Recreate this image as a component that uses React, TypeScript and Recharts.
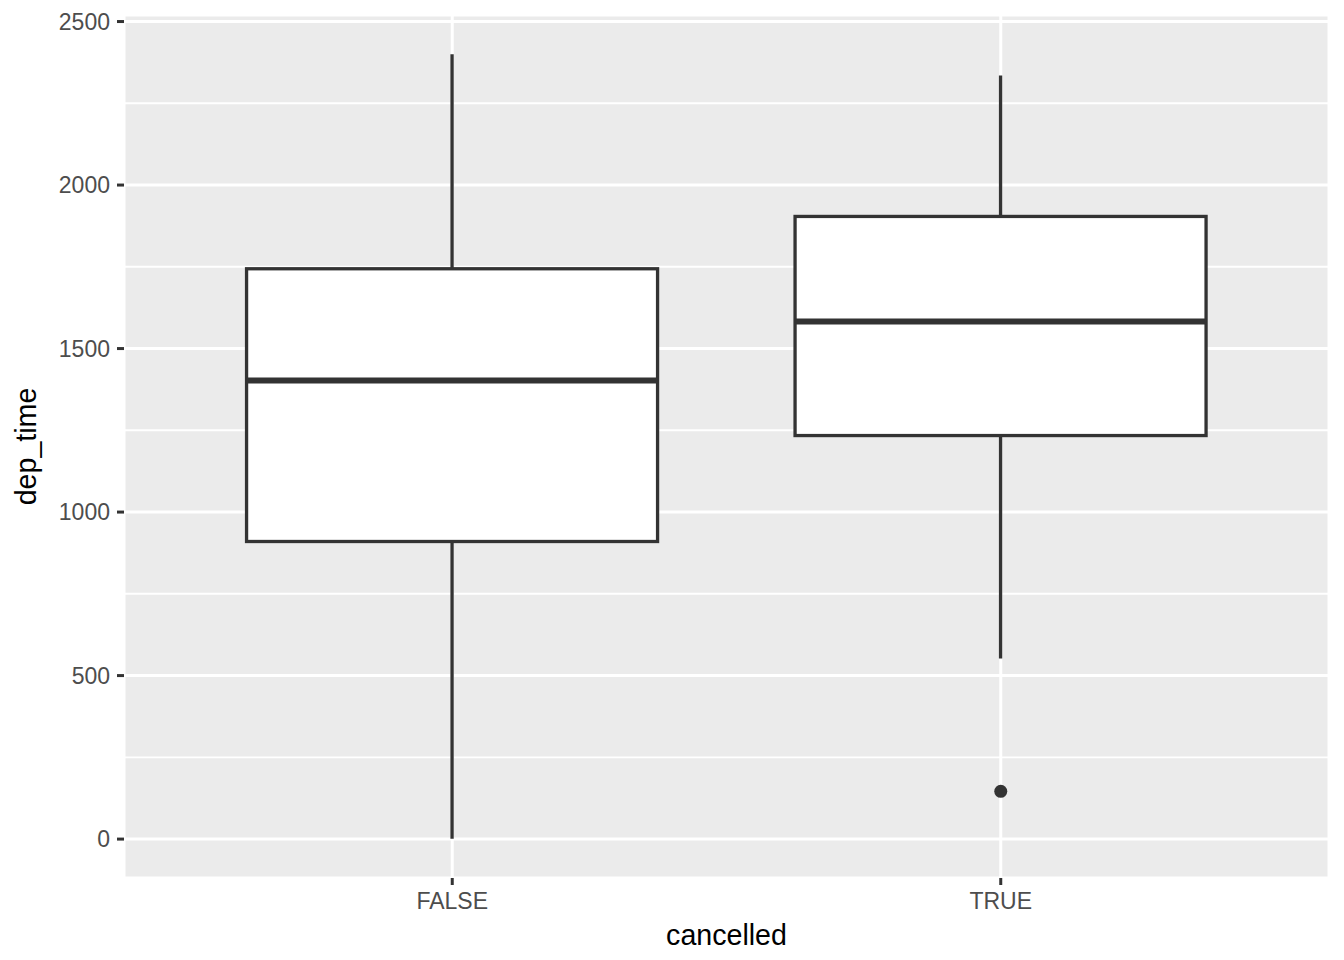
import {
  ComposedChart,
  Bar,
  Scatter,
  XAxis,
  YAxis,
  CartesianGrid,
} from 'recharts';

// boxplot stats per group
const CATEGORIES = ['FALSE', 'TRUE'];
const WHISKER_LOW = [1, 552];
const Q1 = [910, 1234];
const MEDIAN = [1402, 1583];
const Q3 = [1744, 1904];
const WHISKER_HIGH = [2400, 2335];
const OUTLIERS: (number | null)[] = [null, 146];

const Y_TICKS = [0, 500, 1000, 1500, 2000, 2500];
const Y_MINOR = [250, 750, 1250, 1750, 2250];
const Y_DOMAIN = [-119, 2520];

const FONT = '"Liberation Sans", Arial, Helvetica, sans-serif';
const DARK = '#333333';

const data = CATEGORIES.map((cat, i) => ({
  cat,
  low: WHISKER_LOW[i],
  q1: Q1[i],
  median: MEDIAN[i],
  q3: Q3[i],
  high: WHISKER_HIGH[i],
  outlier: OUTLIERS[i],
}));

const BoxShape = (props: any) => {
  const { x, y, width, height, payload } = props;
  const top = Math.min(y, y + height);
  const h = Math.abs(height);
  const k = h / (payload.high - payload.low);
  const toY = (v: number) => top + (payload.high - v) * k;
  const cx = x + width / 2;
  return (
    <g>
      <line x1={cx} x2={cx} y1={toY(payload.high)} y2={toY(payload.q3)} stroke={DARK} strokeWidth={3.3} />
      <line x1={cx} x2={cx} y1={toY(payload.q1)} y2={toY(payload.low)} stroke={DARK} strokeWidth={3.3} />
      <rect
        x={x}
        y={toY(payload.q3)}
        width={width}
        height={toY(payload.q1) - toY(payload.q3)}
        fill="#ffffff"
        stroke={DARK}
        strokeWidth={3.3}
      />
      <line x1={x} x2={x + width} y1={toY(payload.median)} y2={toY(payload.median)} stroke={DARK} strokeWidth={6} />
    </g>
  );
};

const YTitle = ({ viewBox }: any) => (
  <text
    x={26}
    y={viewBox.y + viewBox.height / 2}
    transform={`rotate(-90, 26, ${viewBox.y + viewBox.height / 2})`}
    textAnchor="middle"
    dominantBaseline="central"
    fontSize={28.6}
    fontFamily={FONT}
    fill="#000"
  >
    dep_time
  </text>
);

const XTitle = ({ viewBox }: any) => (
  <text
    x={viewBox.x + viewBox.width / 2}
    y={945}
    textAnchor="middle"
    fontSize={28.6}
    fontFamily={FONT}
    fill="#000"
  >
    cancelled
  </text>
);

export default function App() {
  return (
    <div style={{ position: 'absolute', left: 0, top: 0, background: '#fff' }}>
      <ComposedChart
        width={1344}
        height={960}
        data={data}
        margin={{ top: 15, right: 15, bottom: 0, left: 0 }}
        barCategoryGap="12.5%"
      >
        <CartesianGrid
          vertical={false}
          yAxisId="minor"
          fill="#EBEBEB"
          stroke="#ffffff"
          strokeWidth={1.9}
        />
        <CartesianGrid stroke="#ffffff" strokeWidth={3} />
        <XAxis
          dataKey="cat"
          height={82}
          padding={{ left: 54, right: 54 }}
          axisLine={false}
          tickSize={7}
          tickMargin={8}
          tickLine={{ stroke: DARK, strokeWidth: 3 }}
          tick={{ fontSize: 23, fill: '#4D4D4D', fontFamily: FONT }}
          label={<XTitle />}
        />
        <YAxis
          width={124}
          domain={Y_DOMAIN}
          ticks={Y_TICKS}
          allowDataOverflow
          axisLine={false}
          tickSize={7}
          tickMargin={7}
          tickLine={{ stroke: DARK, strokeWidth: 3 }}
          tick={{ fontSize: 23, fill: '#4D4D4D', fontFamily: FONT }}
          label={<YTitle />}
        />
        <YAxis yAxisId="minor" hide domain={Y_DOMAIN} ticks={Y_MINOR} allowDataOverflow />
        <Bar
          dataKey={(d: any) => [d.low, d.high]}
          shape={<BoxShape />}
          isAnimationActive={false}
        />
        <Scatter
          dataKey="outlier"
          fill={DARK}
          shape={(p: any) => (p.cx == null || p.payload.outlier == null ? <g /> : <circle cx={p.cx} cy={p.cy} r={6.5} fill={DARK} />)}
          isAnimationActive={false}
        />
      </ComposedChart>
    </div>
  );
}
